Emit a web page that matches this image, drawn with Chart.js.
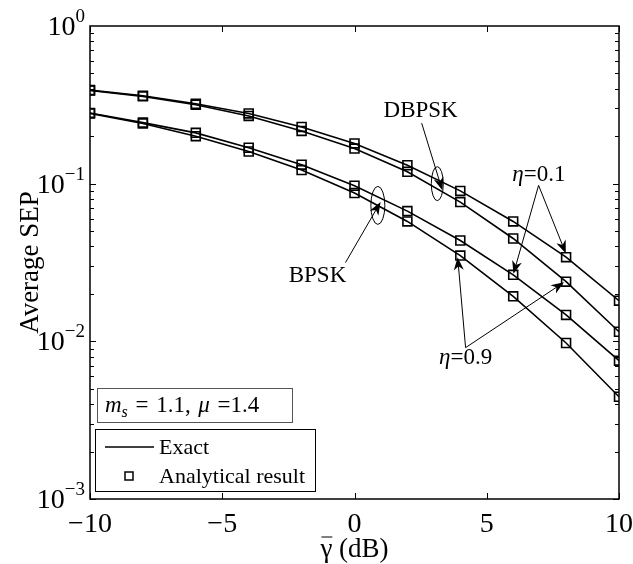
<!DOCTYPE html>
<html>
<head>
<meta charset="utf-8">
<script src="https://cdn.jsdelivr.net/npm/chart.js@4/dist/chart.umd.min.js"></script>
<style>
  body { margin: 0; background: #fff; }
  canvas { display: block; }
</style>
</head>
<body>
<canvas id="chart" width="633" height="564"></canvas>
<script>
// average SNR in dB
const snrDb = [-10, -8, -6, -4, -2, 0, 2, 4, 6, 8, 10];

// average SEP
const dbpskEta01 = [0.392, 0.361, 0.321, 0.279, 0.229, 0.180, 0.131, 0.090, 0.0576, 0.0342, 0.0181];
const dbpskEta09 = [0.390, 0.358, 0.317, 0.269, 0.216, 0.167, 0.119, 0.0764, 0.0449, 0.0239, 0.0115];
const bpskEta01 = [0.281, 0.244, 0.210, 0.169, 0.132, 0.097, 0.067, 0.0436, 0.0264, 0.0147, 0.00754];
const bpskEta09 = [0.279, 0.241, 0.200, 0.160, 0.122, 0.0872, 0.0576, 0.0350, 0.0193, 0.00976, 0.00445];

const xTicks = [-10, -5, 0, 5, 10];
const yTickExps = [0, -1, -2, -3];

const SERIF = '"Liberation Serif", "DejaVu Serif", serif';

// annotation positions in data units
const notes = {
  dbpsk: { label: [2.5, 0.288], from: [2.54, 0.242], to: [3.32, 0.0907], ell: [3.13, 0.1] },
  bpsk: { label: [-1.4, 0.0261], from: [-0.34, 0.0316], to: [0.985, 0.0764], ell: [0.883, 0.0728] },
  eta01: { label: [6.97, 0.113], from: [6.96, 0.0976], to: [[7.99, 0.0361], [6.01, 0.0268]] },
  eta09: { label: [4.2, 0.00787], from: [4.2, 0.00912], to: [[3.9, 0.0342], [7.92, 0.0237]] }
};

function series(values) {
  return {
    data: snrDb.map((x, i) => ({ x: x, y: values[i] })),
    borderColor: '#000',
    borderWidth: 1.6,
    pointStyle: 'rect',
    pointRadius: 6.3,
    pointBorderWidth: 1.6,
    pointBorderColor: '#000',
    pointBackgroundColor: 'rgba(0,0,0,0)',
    tension: 0,
    fill: false
  };
}

function arrow(ctx, x0, y0, x1, y1) {
  const a = Math.atan2(y1 - y0, x1 - x0);
  const len = 13, hw = 5;
  ctx.beginPath();
  ctx.moveTo(x0, y0);
  ctx.lineTo(x1 - Math.cos(a) * 6, y1 - Math.sin(a) * 6);
  ctx.stroke();
  ctx.save();
  ctx.translate(x1, y1);
  ctx.rotate(a);
  ctx.beginPath();
  ctx.moveTo(0, 0);
  ctx.lineTo(-len, -hw);
  ctx.lineTo(-len * 0.7, 0);
  ctx.lineTo(-len, hw);
  ctx.closePath();
  ctx.fill();
  ctx.restore();
}

function etaLabel(ctx, txt, cx, cy) {
  ctx.font = 'italic 23px ' + SERIF;
  const w1 = ctx.measureText('η').width;
  ctx.font = '23px ' + SERIF;
  const w2 = ctx.measureText(txt).width;
  let x = cx - (w1 + w2) / 2;
  ctx.textAlign = 'left';
  ctx.font = 'italic 23px ' + SERIF;
  ctx.fillText('η', x, cy);
  ctx.font = '23px ' + SERIF;
  ctx.fillText(txt, x + w1, cy);
}

const decorPlugin = {
  id: 'decor',
  afterDraw(chart) {
    const ctx = chart.ctx;
    const xs = chart.scales.x, ys = chart.scales.y;
    const X = v => xs.getPixelForValue(v);
    const Y = v => ys.getPixelForValue(v);
    const { left, right, top, bottom } = chart.chartArea;

    ctx.save();
    ctx.strokeStyle = '#000';
    ctx.fillStyle = '#000';

    // box
    ctx.lineWidth = 1.5;
    ctx.strokeRect(left, top, right - left, bottom - top);
    ctx.lineWidth = 1;

    // ticks
    ctx.beginPath();
    xTicks.forEach(t => {
      const px = Math.round(X(t)) + 0.5;
      ctx.moveTo(px, bottom); ctx.lineTo(px, bottom - 6);
      ctx.moveTo(px, top); ctx.lineTo(px, top + 6);
    });
    for (let e = -3; e < 0; e++) {
      for (let m = 1; m < 10; m++) {
        const py = Math.round(Y(m * Math.pow(10, e))) + 0.5;
        const l = m === 1 ? 6 : 4;
        ctx.moveTo(left, py); ctx.lineTo(left + l, py);
        ctx.moveTo(right, py); ctx.lineTo(right - l, py);
      }
    }
    ctx.stroke();

    // x tick labels
    ctx.font = '28px ' + SERIF;
    ctx.textAlign = 'center';
    ctx.textBaseline = 'alphabetic';
    xTicks.forEach(t => {
      const s = t < 0 ? '\u2212' + Math.abs(t) : String(t);
      ctx.fillText(s, X(t), bottom + 33);
    });

    // y tick labels 10^k
    yTickExps.forEach(e => {
      const py = Y(Math.pow(10, e));
      const sup = e < 0 ? '\u2212' + Math.abs(e) : String(e);
      ctx.font = '19px ' + SERIF;
      const ws = ctx.measureText(sup).width;
      ctx.textAlign = 'left';
      const xr = left - 5;
      ctx.fillText(sup, xr - ws, py - 4);
      ctx.font = '28px ' + SERIF;
      const wb = ctx.measureText('10').width;
      ctx.fillText('10', xr - ws - wb, py + 9);
    });

    // axis titles
    ctx.font = '27px ' + SERIF;
    ctx.save();
    ctx.translate(38, (top + bottom) / 2);
    ctx.rotate(-Math.PI / 2);
    ctx.textAlign = 'center';
    ctx.fillText('Average SEP', 0, 0);
    ctx.restore();

    const cx = (left + right) / 2;
    ctx.textAlign = 'left';
    const gw = ctx.measureText('\u03b3').width;
    const rest = ' (dB)';
    const rw = ctx.measureText(rest).width;
    const sx = cx - (gw + rw) / 2;
    const by = bottom + 58;
    ctx.fillText('\u03b3', sx, by);
    ctx.fillText(rest, sx + gw, by);
    ctx.beginPath();
    ctx.moveTo(sx + 1, by - 20);
    ctx.lineTo(sx + gw, by - 20);
    ctx.stroke();

    // annotations
    ctx.font = '23px ' + SERIF;
    ctx.textAlign = 'center';
    ctx.textBaseline = 'middle';
    ctx.fillText('DBPSK', X(notes.dbpsk.label[0]), Y(notes.dbpsk.label[1]));
    ctx.fillText('BPSK', X(notes.bpsk.label[0]), Y(notes.bpsk.label[1]));

    ctx.beginPath();
    ctx.ellipse(X(notes.dbpsk.ell[0]), Y(notes.dbpsk.ell[1]), 6, 17, 0, 0, Math.PI * 2);
    ctx.stroke();
    ctx.beginPath();
    ctx.ellipse(X(notes.bpsk.ell[0]), Y(notes.bpsk.ell[1]), 7, 19, 0, 0, Math.PI * 2);
    ctx.stroke();

    arrow(ctx, X(notes.dbpsk.from[0]), Y(notes.dbpsk.from[1]), X(notes.dbpsk.to[0]), Y(notes.dbpsk.to[1]));
    arrow(ctx, X(notes.bpsk.from[0]), Y(notes.bpsk.from[1]), X(notes.bpsk.to[0]), Y(notes.bpsk.to[1]));

    [['eta01', '=0.1'], ['eta09', '=0.9']].forEach(([k, txt]) => {
      const n = notes[k];
      etaLabel(ctx, txt, X(n.label[0]), Y(n.label[1]));
      n.to.forEach(p => arrow(ctx, X(n.from[0]), Y(n.from[1]), X(p[0]), Y(p[1])));
    });

    // parameter box
    ctx.textBaseline = 'alphabetic';
    ctx.fillStyle = '#fff';
    ctx.fillRect(left + 7, bottom - 111, 195, 34);
    ctx.strokeStyle = '#555';
    ctx.strokeRect(left + 7.5, bottom - 110.5, 195, 34);
    ctx.fillStyle = '#000';
    let tx = left + 15;
    const tb = bottom - 87;
    const parts = [
      ['italic 23px', 'm', 0], ['italic 16px', 's', 5], ['23px', '\u2004=\u20041.1,\u2004', 0],
      ['italic 23px', '\u03bc', 0], ['23px', '\u2004=1.4', 0]
    ];
    ctx.textAlign = 'left';
    parts.forEach(([f, s, dy]) => {
      ctx.font = f + ' ' + SERIF;
      ctx.fillText(s, tx, tb + dy);
      tx += ctx.measureText(s).width;
    });

    // legend box
    ctx.fillStyle = '#fff';
    ctx.fillRect(left + 5, bottom - 70, 220, 62);
    ctx.strokeStyle = '#000';
    ctx.strokeRect(left + 5.5, bottom - 69.5, 220, 62);
    ctx.fillStyle = '#000';
    ctx.lineWidth = 1.5;
    ctx.beginPath();
    ctx.moveTo(left + 15, bottom - 52);
    ctx.lineTo(left + 64, bottom - 52);
    ctx.stroke();
    ctx.strokeRect(left + 35, bottom - 27, 8, 8);
    ctx.font = '22px ' + SERIF;
    ctx.fillText('Exact', left + 69, bottom - 45);
    ctx.fillText('Analytical result', left + 69, bottom - 16);

    ctx.restore();
  }
};

new Chart(document.getElementById('chart').getContext('2d'), {
  type: 'line',
  data: {
    datasets: [series(dbpskEta01), series(dbpskEta09), series(bpskEta01), series(bpskEta09)]
  },
  options: {
    responsive: false,
    animation: false,
    devicePixelRatio: 1,
    layout: { padding: { left: 90, top: 26, right: 14, bottom: 65 } },
    plugins: { legend: { display: false }, tooltip: { enabled: false } },
    scales: {
      x: { type: 'linear', min: -10, max: 10, display: false },
      y: { type: 'logarithmic', min: 0.001, max: 1, display: false }
    }
  },
  plugins: [decorPlugin]
});
</script>
</body>
</html>
